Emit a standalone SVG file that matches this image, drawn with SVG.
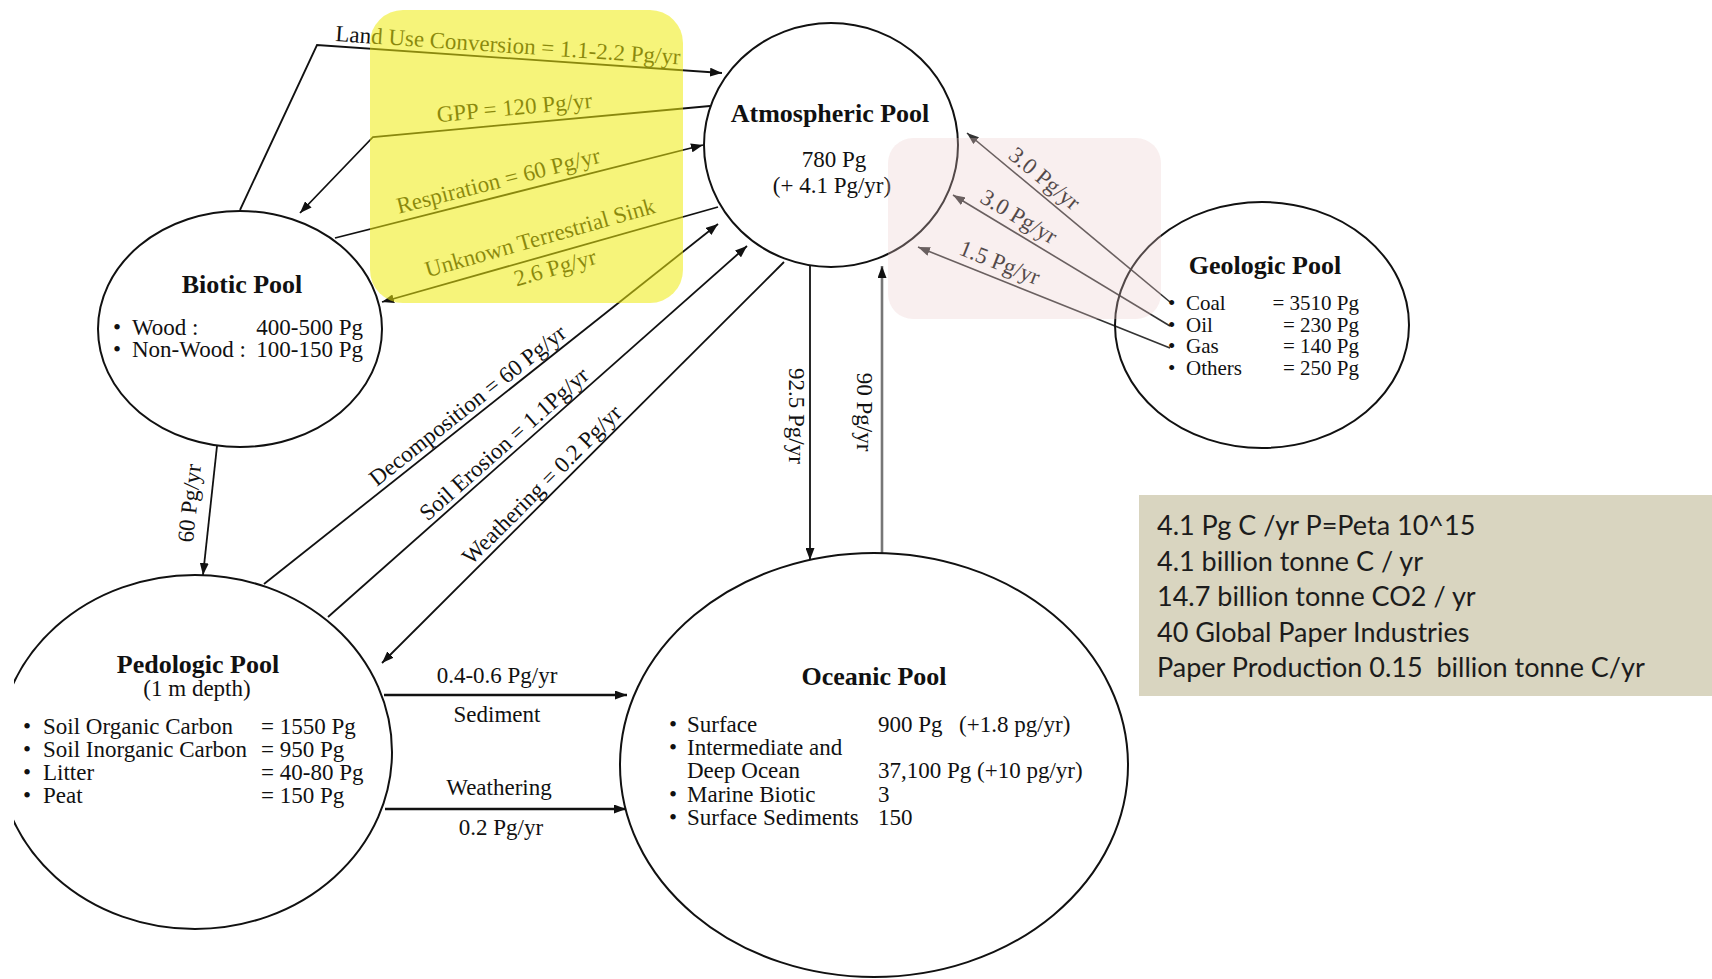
<svg xmlns="http://www.w3.org/2000/svg" width="1712" height="979" viewBox="0 0 1712 979">
<defs>
<style>
text{font-family:"Liberation Serif","Times New Roman",serif;fill:#111;font-size:23px}
.title{font-size:26px;font-weight:bold}
.mid{text-anchor:middle}
.end{text-anchor:end}
.gl{font-size:21px}
.node{fill:none;stroke:#111;stroke-width:2}
.ln{fill:none;stroke:#111;stroke-width:1.8}
.thick{stroke-width:2.6}
.gr{stroke:#333;stroke-width:1.6}
.info{font-family:Lato,"Liberation Sans",sans-serif;font-size:27px;fill:#1c1c1c}
</style>
<marker id="ah" markerUnits="userSpaceOnUse" markerWidth="13" markerHeight="9" refX="12" refY="4.5" orient="auto"><path d="M0,0 L12,4.5 L0,9 z" fill="#111"/></marker>
<marker id="ahg" markerUnits="userSpaceOnUse" markerWidth="13" markerHeight="9" refX="12" refY="4.5" orient="auto"><path d="M0,0 L12,4.5 L0,9 z" fill="#333"/></marker>
<clipPath id="clipL"><rect x="14" y="0" width="1698" height="979"/></clipPath>
</defs>
<rect width="1712" height="979" fill="#fff"/>

<g id="connectors">
<path class="ln" d="M240,210 L317,45 L722,73" marker-end="url(#ah)"/>
<path class="ln" d="M710,106 L373,137 L300,213" marker-end="url(#ah)"/>
<path class="ln" d="M335,238 L703,145" marker-end="url(#ah)"/>
<path class="ln" d="M718,207 L382,302" marker-end="url(#ah)"/>
<path class="ln" d="M264,584 L718,224" marker-end="url(#ah)"/>
<path class="ln" d="M328,617 L747,246" marker-end="url(#ah)"/>
<path class="ln" d="M784,262 L382,663" marker-end="url(#ah)"/>
<path class="ln" d="M217,446 L203,575" marker-end="url(#ah)"/>
<path class="ln" d="M810,266 L810,560" marker-end="url(#ah)"/>
<path class="ln" style="stroke:#777;stroke-width:2.6" d="M882,554 L882,266" marker-end="url(#ah)"/>
<path class="ln thick" d="M384,695 L627,695" marker-end="url(#ah)"/>
<path class="ln thick" d="M385,809 L626,809" marker-end="url(#ah)"/>
<path class="ln gr" d="M1170,302 L967,133" marker-end="url(#ahg)"/>
<path class="ln gr" d="M1170,326 L953,195" marker-end="url(#ahg)"/>
<path class="ln gr" d="M1170,348 L918,247" marker-end="url(#ahg)"/>

<text x="335" y="41" transform="rotate(3.9 335 41)">Land Use Conversion = 1.1-2.2 Pg/yr</text>
<text class="mid" transform="translate(515,115) rotate(-5.3)">GPP = 120 Pg/yr</text>
<text class="mid" transform="translate(500,188) rotate(-14.2)">Respiration = 60 Pg/yr</text>
<text class="mid" transform="translate(542,245) rotate(-15.8)">Unknown Terrestrial Sink</text>
<text class="mid" transform="translate(557,275) rotate(-15.8)">2.6 Pg/yr</text>
<text class="mid" y="-6" transform="translate(476,416) rotate(-38.4)">Decomposition = 60 Pg/yr</text>
<text class="mid" y="-6" transform="translate(513,454) rotate(-41.6)">Soil Erosion = 1.1Pg/yr</text>
<text class="mid" y="-7" transform="translate(552,495) rotate(-45)">Weathering = 0.2 Pg/yr</text>
<text class="mid" transform="translate(197,504) rotate(-84)">60 Pg/yr</text>
<text class="mid" transform="translate(789,416) rotate(90)">92.5 Pg/yr</text>
<text class="mid" transform="translate(857,412) rotate(90)">90 Pg/yr</text>
<text class="mid" x="497" y="683">0.4-0.6 Pg/yr</text>
<text class="mid" x="497" y="722">Sediment</text>
<text class="mid" x="499" y="795">Weathering</text>
<text class="mid" x="501" y="835">0.2 Pg/yr</text>
<text class="mid" y="-6" transform="translate(1036,189) rotate(39.4)">3.0 Pg/yr</text>
<text class="mid" y="-8" transform="translate(1011,230) rotate(30.8)">3.0 Pg/yr</text>
<text class="mid" y="-8" transform="translate(994,277) rotate(21.6)">1.5 Pg/yr</text>
</g>

<g id="atmospheric-pool">
<ellipse class="node" cx="831" cy="145" rx="127" ry="122"/>
<text class="title mid" x="830" y="122">Atmospheric Pool</text>
<text class="mid" x="834" y="167">780 Pg</text>
<text class="mid" x="832" y="193">(+ 4.1 Pg/yr)</text>
</g>

<g id="biotic-pool">
<ellipse class="node" cx="240" cy="329" rx="142" ry="118"/>
<text class="title mid" x="242" y="293">Biotic Pool</text>
<text x="113" y="335">•<tspan x="132" y="335">Wood :</tspan><tspan x="113" y="357">•</tspan><tspan x="132" y="357">Non-Wood :</tspan></text>
<text class="end" x="363" y="335">400-500 Pg<tspan x="363" y="357">100-150 Pg</tspan></text>
</g>

<g id="geologic-pool">
<ellipse class="node" cx="1262" cy="325" rx="147" ry="123"/>
<text class="title mid" x="1265" y="274">Geologic Pool</text>
<text class="gl" x="1168" y="310">•<tspan x="1186" y="310">Coal</tspan><tspan x="1168" y="331.5">•</tspan><tspan x="1186" y="331.5">Oil</tspan><tspan x="1168" y="353">•</tspan><tspan x="1186" y="353">Gas</tspan><tspan x="1168" y="374.5">•</tspan><tspan x="1186" y="374.5">Others</tspan></text>
<text class="gl end" x="1359" y="310">= 3510 Pg<tspan x="1359" y="331.5">= 230 Pg</tspan><tspan x="1359" y="353">= 140 Pg</tspan><tspan x="1359" y="374.5">= 250 Pg</tspan></text>
</g>

<g id="pedologic-pool">
<ellipse class="node" cx="195" cy="752" rx="197" ry="177" clip-path="url(#clipL)"/>
<text class="title mid" x="198" y="673">Pedologic Pool</text>
<text class="mid" x="197" y="696">(1 m depth)</text>
<text x="23" y="734">•<tspan x="43" y="734">Soil Organic Carbon</tspan><tspan x="23" y="757">•</tspan><tspan x="43" y="757">Soil Inorganic Carbon</tspan><tspan x="23" y="780">•</tspan><tspan x="43" y="780">Litter</tspan><tspan x="23" y="803">•</tspan><tspan x="43" y="803">Peat</tspan></text>
<text x="261" y="734">= 1550 Pg<tspan x="261" y="757">= 950 Pg</tspan><tspan x="261" y="780">= 40-80 Pg</tspan><tspan x="261" y="803">= 150 Pg</tspan></text>
</g>

<g id="oceanic-pool">
<ellipse class="node" cx="874" cy="765" rx="254" ry="212"/>
<text class="title mid" x="874" y="685">Oceanic Pool</text>
<text x="669" y="732">•<tspan x="687" y="732">Surface</tspan><tspan x="669" y="755">•</tspan><tspan x="687" y="755">Intermediate and</tspan><tspan x="687" y="778">Deep Ocean</tspan><tspan x="669" y="802">•</tspan><tspan x="687" y="802">Marine Biotic</tspan><tspan x="669" y="825">•</tspan><tspan x="687" y="825">Surface Sediments</tspan></text>
<text x="878" y="732">900 Pg<tspan x="959" y="732">(+1.8 pg/yr)</tspan><tspan x="878" y="778">37,100 Pg (+10 pg/yr)</tspan><tspan x="878" y="802">3</tspan><tspan x="878" y="825">150</tspan></text>
</g>

<g id="highlights">
<rect x="370" y="10" width="313" height="293" rx="33" fill="#eeeb0d" opacity="0.55"/>
<rect x="888" y="138" width="273" height="181" rx="25" fill="#ebcaca" opacity="0.3"/>
</g>

<g id="info-box">
<rect x="1139" y="495" width="573" height="201" fill="#d9d5c0"/>
<text class="info" x="1157" y="535">4.1 Pg C /yr P=Peta 10^15</text>
<text class="info" x="1157" y="571">4.1 billion tonne C / yr</text>
<text class="info" x="1157" y="606">14.7 billion tonne CO2 / yr</text>
<text class="info" x="1157" y="642">40 Global Paper Industries</text>
<text class="info" x="1157" y="677" xml:space="preserve">Paper Production 0.15  billion tonne C/yr</text>
</g>
</svg>
